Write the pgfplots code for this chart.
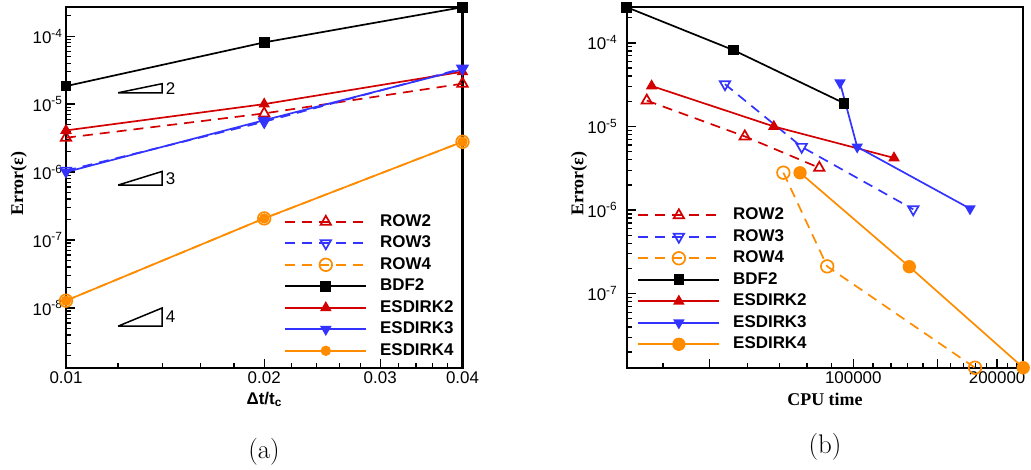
\documentclass[border=0pt]{standalone}
\usepackage{fontspec}
\usepackage{pgfplots}
\pgfplotsset{compat=1.18}
\newfontfamily\helv{Liberation Sans}
\newfontfamily\tms{Liberation Serif}
\definecolor{cRed}{RGB}{210,0,0}
\definecolor{cBlue}{RGB}{51,51,255}
\definecolor{cOrange}{RGB}{255,140,0}

\begin{document}
\begin{tikzpicture}
\useasboundingbox (0,0) rectangle (1031bp,470bp);

% ---------------- (a) error vs time step ----------------
\begin{axis}[
  xmode=log, ymode=log,
  scale only axis, width=396.5bp, height=360.5bp,
  anchor=south west, at={(66bp,102.3bp)}, clip=false,
  axis line style={line width=2.1bp},
  tick pos=left, tick align=inside,
  major tick length=9bp, minor tick length=5bp,
  every tick/.style={black, line width=1.3bp},
  ticklabel style={font=\helv\fontsize{17}{20}\selectfont},
  legend style={draw=none, fill=none, inner sep=0pt, anchor=north west,
    at={(axis description cs:0.5505,0.4289)},
    font=\helv\bfseries\fontsize{17}{20}\selectfont,
    nodes={inner sep=0pt, text height=13bp, text depth=4bp},
    row sep=4.5bp, column sep=13bp},
  legend cell align=left,
  legend image code/.code={
    \draw[mark repeat=2,mark phase=2,#1]
      plot coordinates {(0bp,0bp) (40.5bp,0bp) (81bp,0bp)};},
  every axis plot/.append style={line width=1.7bp},
  xmin=0.01, xmax=0.04, ymin=1.32e-9, ymax=2.67e-4,
  xtick={0.01,0.02,0.03,0.04}, xticklabels={0.01,0.02,0.03,0.04},
  minor xtick={0.012,0.014,0.016,0.018,0.022,0.024,0.026,0.028,0.032,0.034,0.036,0.038},
  ytick={1e-8,1e-7,1e-6,1e-5,1e-4},
  yticklabels={10\textsuperscript{-8},10\textsuperscript{-7},10\textsuperscript{-6},10\textsuperscript{-5},10\textsuperscript{-4}},
  minor ytick={2e-9,3e-9,4e-9,5e-9,6e-9,7e-9,8e-9,9e-9,
    2e-8,3e-8,4e-8,5e-8,6e-8,7e-8,8e-8,9e-8,
    2e-7,3e-7,4e-7,5e-7,6e-7,7e-7,8e-7,9e-7,
    2e-6,3e-6,4e-6,5e-6,6e-6,7e-6,8e-6,9e-6,
    2e-5,3e-5,4e-5,5e-5,6e-5,7e-5,8e-5,9e-5,2e-4},
  xlabel={\helv\bfseries\fontsize{17}{20}\selectfont Δt/t\textsubscript{c}},
  xlabel style={at={(axis description cs:0.5,-0.101)}, anchor=base},
  ylabel={\tms\bfseries\fontsize{18}{20}\selectfont Error(ε)},
  ylabel style={at={(axis description cs:-0.119,0.51)}, anchor=center},
]
\addplot[cRed, line width=1.7bp, dash pattern=on 10bp off 7bp, mark=triangle, mark size=6bp, mark options={solid}]
  coordinates {(0.01,3.2e-6) (0.02,7.3e-6) (0.04,2.0e-5)};
\addlegendentry{ROW2}
\addplot[cBlue, line width=1.7bp, dash pattern=on 10bp off 7bp, mark=triangle, mark size=6bp, mark options={solid, rotate=180}]
  coordinates {(0.01,1.05e-6) (0.02,5.5e-6) (0.04,3.35e-5)};
\addlegendentry{ROW3}
\addplot[cOrange, line width=1.7bp, dash pattern=on 10bp off 7bp, mark=o, mark size=6.3bp, mark options={solid}]
  coordinates {(0.01,1.28e-8) (0.02,2.08e-7) (0.04,2.79e-6)};
\addlegendentry{ROW4}
\addplot[black, line width=1.7bp, mark=square*, mark size=4.5bp]
  coordinates {(0.01,1.84e-5) (0.02,8.1e-5) (0.04,2.67e-4)};
\addlegendentry{BDF2}
\addplot[cRed, line width=1.7bp, mark=triangle*, mark size=5bp]
  coordinates {(0.01,4.1e-6) (0.02,1.0e-5) (0.04,3.0e-5)};
\addlegendentry{ESDIRK2}
\addplot[cBlue, line width=1.7bp, mark=triangle*, mark size=5bp, mark options={rotate=180}]
  coordinates {(0.01,1.0e-6) (0.02,5.8e-6) (0.04,3.25e-5)};
\addlegendentry{ESDIRK3}
\addplot[cOrange, line width=1.7bp, mark=*, mark size=4.3bp]
  coordinates {(0.01,1.28e-8) (0.02,2.08e-7) (0.04,2.79e-6)};
\addlegendentry{ESDIRK4}

% slope triangles
\addplot[black, line width=1.5bp, line join=miter, forget plot]
  coordinates {(0.012,1.47e-5) (0.014,1.47e-5) (0.014,2.0e-5) (0.012,1.47e-5)};
\addplot[black, line width=1.5bp, line join=miter, forget plot]
  coordinates {(0.012,6.44e-7) (0.014,6.44e-7) (0.014,1.023e-6) (0.012,6.44e-7)};
\addplot[black, line width=1.5bp, line join=miter, forget plot]
  coordinates {(0.012,5.4e-9) (0.014,5.4e-9) (0.014,1.0e-8) (0.012,5.4e-9)};
\node[anchor=west, inner sep=0pt, xshift=3.5bp, font=\helv\fontsize{17}{20}\selectfont]
  at (axis cs:0.014,1.715e-5) {2};
\node[anchor=west, inner sep=0pt, xshift=3.5bp, font=\helv\fontsize{17}{20}\selectfont]
  at (axis cs:0.014,8.12e-7) {3};
\node[anchor=west, inner sep=0pt, xshift=3.5bp, font=\helv\fontsize{17}{20}\selectfont]
  at (axis cs:0.014,7.35e-9) {4};
\end{axis}

% ---------------- (b) error vs CPU time ----------------
\begin{axis}[
  xmode=log, ymode=log,
  scale only axis, width=396.5bp, height=360.5bp,
  anchor=south west, at={(626.7bp,102.3bp)}, clip=false,
  axis line style={line width=2.1bp},
  tick pos=left, tick align=inside,
  major tick length=9bp, minor tick length=5bp,
  every tick/.style={black, line width=1.3bp},
  ticklabel style={font=\helv\fontsize{17}{20}\selectfont},
  legend style={draw=none, fill=none, inner sep=0pt, anchor=north west,
    at={(axis description cs:0.0267,0.447)},
    font=\helv\bfseries\fontsize{17}{20}\selectfont,
    nodes={inner sep=0pt, text height=13bp, text depth=4bp},
    row sep=4.5bp, column sep=13bp},
  legend cell align=left,
  legend image code/.code={
    \draw[mark repeat=2,mark phase=2,#1]
      plot coordinates {(0bp,0bp) (40.5bp,0bp) (81bp,0bp)};},
  every axis plot/.append style={line width=1.7bp},
  xmin=33570, xmax=226800, ymin=1.3e-8, ymax=2.67e-4,
  xtick={50000,100000,150000,200000}, xticklabels={,100000,,200000},
  minor xtick={40000,60000,70000,80000,90000,110000,120000,130000,140000,
    160000,170000,180000,190000,210000,220000},
  ytick={1e-7,1e-6,1e-5,1e-4},
  yticklabels={10\textsuperscript{-7},10\textsuperscript{-6},10\textsuperscript{-5},10\textsuperscript{-4}},
  yticklabel style={xshift=-6bp},
  minor ytick={2e-8,3e-8,4e-8,5e-8,6e-8,7e-8,8e-8,9e-8,
    2e-7,3e-7,4e-7,5e-7,6e-7,7e-7,8e-7,9e-7,
    2e-6,3e-6,4e-6,5e-6,6e-6,7e-6,8e-6,9e-6,
    2e-5,3e-5,4e-5,5e-5,6e-5,7e-5,8e-5,9e-5,2e-4},
  xlabel={\tms\bfseries\fontsize{18}{20}\selectfont CPU time},
  xlabel style={at={(axis description cs:0.5,-0.104)}, anchor=base},
  ylabel={\tms\bfseries\fontsize{18}{20}\selectfont Error(ε)},
  ylabel style={at={(axis description cs:-0.120,0.51)}, anchor=center},
]
\addplot[cRed, line width=1.7bp, dash pattern=on 10bp off 7bp, mark=triangle, mark size=6bp, mark options={solid}]
  coordinates {(36980,2.04e-5) (59300,7.6e-6) (84900,3.2e-6)};
\addlegendentry{ROW2}
\addplot[cBlue, line width=1.7bp, dash pattern=on 10bp off 7bp, mark=triangle, mark size=6bp, mark options={solid, rotate=180}]
  coordinates {(53900,3.2e-5) (78000,5.7e-6) (133500,1.02e-6)};
\addlegendentry{ROW3}
\addplot[cOrange, line width=1.7bp, dash pattern=on 10bp off 7bp, mark=o, mark size=6.3bp, mark options={solid}]
  coordinates {(71400,2.8e-6) (88200,2.12e-7) (179800,1.3e-8)};
\addlegendentry{ROW4}
\addplot[black, line width=1.7bp, mark=square*, mark size=4.5bp]
  coordinates {(33570,2.67e-4) (56100,8.2e-5) (95600,1.9e-5)};
\addlegendentry{BDF2}
\addplot[cRed, line width=1.7bp, mark=triangle*, mark size=5bp]
  coordinates {(37850,3.05e-5) (68200,1.0e-5) (121700,4.2e-6)};
\addlegendentry{ESDIRK2}
\addplot[cBlue, line width=1.7bp, mark=triangle*, mark size=5bp, mark options={rotate=180}]
  coordinates {(93800,3.34e-5) (101900,5.7e-6) (175500,1.04e-6)};
\addlegendentry{ESDIRK3}
\addplot[cOrange, line width=1.7bp, mark=*, mark size=5.8bp]
  coordinates {(77400,2.79e-6) (131000,2.1e-7) (226800,1.3e-8)};
\addlegendentry{ESDIRK4}
\end{axis}

\node[anchor=base, font=\fontsize{27}{30}\selectfont] at (264bp,12bp) {(a)};
\node[anchor=base, font=\fontsize{27}{30}\selectfont] at (825bp,17bp) {(b)};
\end{tikzpicture}
\end{document}
